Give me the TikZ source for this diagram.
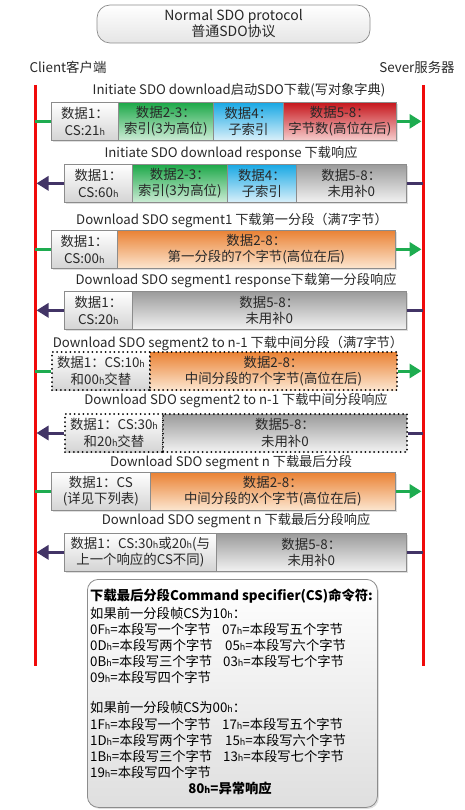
\documentclass[tikz,border=0pt]{standalone}
\usepackage{fontspec}
\setmainfont{Noto Sans CJK SC}
\usetikzlibrary{shadows,arrows.meta}

\definecolor{lifered}{RGB}{240,10,10}
\definecolor{fwdgreen}{RGB}{30,172,80}
\definecolor{backpurple}{RGB}{66,52,102}
\definecolor{cellborder}{RGB}{140,140,140}
\definecolor{txt}{RGB}{40,40,40}
\definecolor{whiteB}{RGB}{212,212,212}
\definecolor{greenT}{RGB}{28,168,72}
\definecolor{greenB}{RGB}{205,236,214}
\definecolor{blueT}{RGB}{24,168,228}
\definecolor{blueB}{RGB}{218,240,250}
\definecolor{redT}{RGB}{198,22,28}
\definecolor{redB}{RGB}{246,205,205}
\definecolor{orangeT}{RGB}{234,130,52}
\definecolor{orangeB}{RGB}{252,230,208}
\definecolor{grayT}{RGB}{155,155,155}
\definecolor{grayB}{RGB}{242,242,242}

% small "h" suffix used for hexadecimal values
\newcommand\hsub{{\fontsize{9}{9}\selectfont h}}
\newcommand\mainsize{\fontsize{13.4}{16.5}\selectfont}

\tikzset{
  lifeline/.style={draw=lifered, line width=3pt},
  fwdline/.style={draw=fwdgreen, line width=3pt},
  fwdarrow/.style={draw=fwdgreen, line width=3pt, -{Triangle[length=12pt,width=14pt]}},
  backline/.style={draw=backpurple, line width=3pt},
  backarrow/.style={draw=backpurple, line width=3pt, -{Triangle[length=12pt,width=14pt]}},
  cell/.style={draw=cellborder, line width=0.7pt, anchor=north west, minimum height=38pt,
    inner sep=0pt, align=center, text=txt, font=\mainsize,
    drop shadow={shadow xshift=1.5pt, shadow yshift=-1.5pt, opacity=0.25}},
  dotcell/.style={draw=black, line width=2pt, dash pattern=on 0pt off 4.4pt, line cap=round,
    anchor=north west, minimum height=38pt, inner sep=0pt, align=center, text=txt,
    font=\mainsize},
  cwhite/.style={top color=white, bottom color=whiteB},
  cgreen/.style={top color=greenT, bottom color=greenB},
  cblue/.style={top color=blueT, bottom color=blueB},
  cred/.style={top color=redT, bottom color=redB},
  corange/.style={top color=orangeT, bottom color=orangeB},
  cgray/.style={top color=grayT, bottom color=grayB},
  msglabel/.style={font=\fontsize{13.2}{15}\selectfont, text=txt, inner sep=0pt},
  sidelabel/.style={font=\fontsize{13.4}{15}\selectfont, text=txt, inner sep=0pt},
  titlebox/.style={draw=cellborder, line width=0.7pt, rounded corners=13pt, top color=white,
    bottom color=whiteB!60, minimum width=273pt, minimum height=38pt, align=center,
    inner sep=0pt, text=txt, font=\fontsize{14}{16}\selectfont},
  notebox/.style={draw=cellborder, line width=0.8pt, rounded corners=11pt, top color=white,
    bottom color=whiteB!75, anchor=north west, minimum width=290pt, minimum height=228pt,
    drop shadow={shadow xshift=1.5pt, shadow yshift=-1.5pt, opacity=0.25}},
  noteline/.style={anchor=west, inner sep=0pt, text=black, font=\fontsize{13.3}{15}\selectfont},
  notebold/.style={noteline, font=\fontsize{13.3}{15}\selectfont\bfseries},
}

\begin{document}
\begin{tikzpicture}[x=1pt,y=-1pt]
\useasboundingbox (0,0) rectangle (465,810);

% heading and the two parties
\node[titlebox] (title) at (233.5,24) {Normal SDO protocol\\普通SDO协议};
\node[sidelabel] (client) at (68,67) {Client客户端};
\node[sidelabel] (server) at (417,67) {Sever服务器};

% life lines of client and server
\coordinate (ltop) at (35,85);
\coordinate (lbot) at (35,666);
\coordinate (rtop) at (423,85);
\coordinate (rbot) at (423,666);
\draw[lifeline] (ltop) -- (lbot);
\draw[lifeline] (rtop) -- (rbot);

% 1: initiate download
\node[msglabel] (m1) at (239,90) {Initiate SDO download启动SDO下载(写对象字典)};
\node[cell,cwhite,minimum width=67pt] (r1a) at (51,102) {数据1：\\CS:21\hsub{}};
\node[cell,cgreen,minimum width=95pt] (r1b) at (118,102) {数据2-3：\\索引(3为高位)};
\node[cell,cblue,minimum width=70pt] (r1c) at (213,102) {数据4：\\子索引};
\node[cell,cred,minimum width=113pt] (r1d) at (283,102) {数据5-8：\\字节数(高位在后)};
\draw[fwdline] (ltop |- r1a.west) -- (r1a.west);
\draw[fwdarrow] (r1d.east) -- ([xshift=-1.5pt]rtop |- r1d.east);

% 2: initiate download response
\node[msglabel] (m2) at (231,153) {Initiate SDO download response 下载响应};
\node[cell,cwhite,minimum width=68pt] (r2a) at (64,164) {数据1：\\CS:60\hsub{}};
\node[cell,cgreen,minimum width=95pt] (r2b) at (132,164) {数据2-3：\\索引(3为高位)};
\node[cell,cblue,minimum width=69pt] (r2c) at (227,164) {数据4：\\子索引};
\node[cell,cgray,minimum width=110pt] (r2d) at (296,164) {数据5-8：\\未用补0};
\draw[backline] (rtop |- r2d.east) -- (r2d.east);
\draw[backarrow] (r2a.west) -- ([xshift=1.5pt]ltop |- r2a.west);

% 3: first segment
\node[msglabel] (m3) at (232,221) {Download SDO segment1 下载第一分段（满7字节）};
\node[cell,cwhite,minimum width=66pt] (r3a) at (51,230) {数据1：\\CS:00\hsub{}};
\node[cell,corange,minimum width=278pt] (r3b) at (117,230) {数据2-8：\\第一分段的7个字节(高位在后)};
\draw[fwdline] (ltop |- r3a.west) -- (r3a.west);
\draw[fwdarrow] (r3b.east) -- ([xshift=-1.5pt]rtop |- r3b.east);

% 4: first segment response
\node[msglabel] (m4) at (236,281) {Download SDO segment1 response下载第一分段响应};
\node[cell,cwhite,minimum width=68pt] (r4a) at (64,291) {数据1：\\CS:20\hsub{}};
\node[cell,cgray,minimum width=274pt] (r4b) at (132,291) {数据5-8：\\未用补0};
\draw[backline] (rtop |- r4b.east) -- (r4b.east);
\draw[backarrow] (r4a.west) -- ([xshift=1.5pt]ltop |- r4a.west);

% 5: middle segments
\node[msglabel] (m5) at (228,343) {Download SDO segment2 to n-1 下载中间分段（满7字节）};
\node[dotcell,cwhite,minimum width=98pt] (r5a) at (51,351) {数据1：CS:10\hsub{}\\和00\hsub{}交替};
\node[dotcell,corange,minimum width=247pt] (r5b) at (149,351) {数据2-8：\\中间分段的7个字节(高位在后)};
\draw[fwdline] (ltop |- r5a.west) -- (r5a.west);
\draw[fwdarrow] (r5b.east) -- ([xshift=-1.5pt]rtop |- r5b.east);

% 6: middle segment response
\node[msglabel] (m6) at (236,401) {Download SDO segment2 to n-1 下载中间分段响应};
\node[dotcell,cwhite,minimum width=98pt] (r6a) at (64,413) {数据1：CS:30\hsub{}\\和20\hsub{}交替};
\node[dotcell,cgray,minimum width=244pt] (r6b) at (162,413) {数据5-8：\\未用补0};
\draw[backline] (rtop |- r6b.east) -- (r6b.east);
\draw[backarrow] (r6a.west) -- ([xshift=1.5pt]ltop |- r6a.west);

% 7: last segment
\node[msglabel] (m7) at (231,463) {Download SDO segment n 下载最后分段};
\node[cell,cwhite,minimum width=99pt] (r7a) at (51,472) {数据1：CS\\(详见下列表)};
\node[cell,corange,minimum width=245pt] (r7b) at (150,472) {数据2-8：\\中间分段的X个字节(高位在后)};
\draw[fwdline] (ltop |- r7a.west) -- (r7a.west);
\draw[fwdarrow] (r7b.east) -- ([xshift=-1.5pt]rtop |- r7b.east);

% 8: last segment response
\node[msglabel] (m8) at (236,521) {Download SDO segment n 下载最后分段响应};
\node[cell,cwhite,minimum width=152pt] (r8a) at (64,533) {数据1：CS:30\hsub{}或20\hsub{}(与\\上一个响应的CS不同)};
\node[cell,cgray,minimum width=190pt] (r8b) at (216,533) {数据5-8：\\未用补0};
\draw[backline] (rtop |- r8b.east) -- (r8b.east);
\draw[backarrow] (r8a.west) -- ([xshift=1.5pt]ltop |- r8a.west);

% command specifier table for the last segment
\node[notebox] (notes) at (87,579) {};
\node[notebold] (n0) at (90,596) {下载最后分段Command specifier(CS)命令符:};
\node[noteline] (n1) at (90,613) {如果前一分段帧CS为10\hsub{}：};
\node[noteline] (n2a) at (90,629) {0F\hsub{}=本段写一个字节};
\node[noteline] (n2b) at (222,629) {07\hsub{}=本段写五个字节};
\node[noteline] (n3a) at (90,645) {0D\hsub{}=本段写两个字节};
\node[noteline] (n3b) at (225,645) {05\hsub{}=本段写六个字节};
\node[noteline] (n4a) at (90,661) {0B\hsub{}=本段写三个字节};
\node[noteline] (n4b) at (223,661) {03\hsub{}=本段写七个字节};
\node[noteline] (n5a) at (90,677) {09\hsub{}=本段写四个字节};
\node[noteline] (n6) at (90,707) {如果前一分段帧CS为00\hsub{}：};
\node[noteline] (n7a) at (90,724) {1F\hsub{}=本段写一个字节};
\node[noteline] (n7b) at (222,724) {17\hsub{}=本段写五个字节};
\node[noteline] (n8a) at (90,740) {1D\hsub{}=本段写两个字节};
\node[noteline] (n8b) at (225,740) {15\hsub{}=本段写六个字节};
\node[noteline] (n9a) at (90,756) {1B\hsub{}=本段写三个字节};
\node[noteline] (n9b) at (223,756) {13\hsub{}=本段写七个字节};
\node[noteline] (n10a) at (90,772) {19\hsub{}=本段写四个字节};
\node[notebold,anchor=center] (n11) at (230,788) {80\hsub{}=异常响应};
\end{tikzpicture}
\end{document}
